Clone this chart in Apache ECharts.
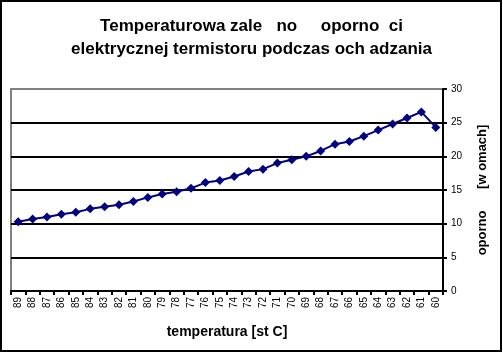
<!DOCTYPE html>
<html>
<head>
<meta charset="utf-8">
<script src="https://cdn.jsdelivr.net/npm/echarts@6/dist/echarts.min.js"></script>
<style>
  html, body { margin: 0; padding: 0; background: #fff; }
  #chart { width: 503px; height: 354px; }
</style>
</head>
<body>
<div id="chart"></div>
<script>
const temperatures = ["89", "88", "87", "86", "85", "84", "83", "82", "81", "80",
  "79", "78", "77", "76", "75", "74", "73", "72", "71", "70",
  "69", "68", "67", "66", "65", "64", "63", "62", "61", "60"];
const resistance = [10.3, 10.7, 11.0, 11.4, 11.7, 12.2, 12.5, 12.8, 13.3, 13.9,
  14.4, 14.75, 15.25, 16.1, 16.4, 17.0, 17.75, 18.1, 19.0, 19.5,
  20.0, 20.8, 21.8, 22.2, 23.0, 23.9, 24.8, 25.7, 26.6, 24.3];
const yTicks = [0, 5, 10, 15, 20, 25, 30];

const chart = echarts.init(document.getElementById("chart"));
chart.setOption({
  animation: false,
  title: {
    text: "Temperaturowa zale   no     oporno  ci\nelektrycznej termistoru podczas och adzania",
    left: "center",
    top: 10,
    textStyle: {
      fontFamily: "Liberation Sans",
      fontSize: 17,
      fontWeight: "bold",
      color: "#000",
      lineHeight: 23
    }
  },
  graphic: [{
    type: "rect",
    shape: { x: 1, y: 1, width: 500, height: 350 },
    style: { fill: null, stroke: "#000", lineWidth: 2 },
    silent: true
  }],
  grid: {
    left: 11,
    right: 60,
    top: 89,
    bottom: 63,
    show: true,
    borderColor: "#808080",
    borderWidth: 2
  },
  xAxis: {
    type: "category",
    data: temperatures,
    name: "temperatura [st C]",
    nameLocation: "middle",
    nameGap: 34,
    nameTextStyle: {
      fontFamily: "Liberation Sans",
      fontSize: 14,
      fontWeight: "bold",
      color: "#000"
    },
    axisLine: { lineStyle: { color: "#000", width: 2 } },
    axisTick: { show: true, interval: 0, length: 4, lineStyle: { color: "#000", width: 2 } },
    axisLabel: {
      interval: 0,
      rotate: 90,
      margin: 6,
      fontFamily: "Liberation Sans",
      fontSize: 10,
      color: "#000"
    },
    splitLine: { show: false }
  },
  yAxis: {
    type: "value",
    position: "right",
    min: 0,
    max: 30,
    interval: 5,
    name: "oporno      [w omach]",
    nameLocation: "middle",
    nameRotate: 90,
    nameGap: 33,
    nameTextStyle: {
      fontFamily: "Liberation Sans",
      fontSize: 13,
      fontWeight: "bold",
      color: "#000"
    },
    axisLine: { show: true, lineStyle: { color: "#000", width: 2 } },
    axisTick: { show: true, length: 4, lineStyle: { color: "#000", width: 2 } },
    axisLabel: {
      margin: 8,
      fontFamily: "Liberation Sans",
      fontSize: 10,
      color: "#000",
      formatter: v => (yTicks.indexOf(v) >= 0 ? String(v) : "")
    },
    splitLine: {
      show: true,
      lineStyle: {
        color: ["#000", "#000", "#000", "#000", "#000", "#000", "#808080"],
        width: 2
      }
    }
  },
  series: [{
    type: "line",
    data: resistance,
    color: "#000080",
    lineStyle: { color: "#000080", width: 2 },
    symbol: "diamond",
    symbolSize: 9,
    itemStyle: { color: "#000080" }
  }]
});
</script>
</body>
</html>
